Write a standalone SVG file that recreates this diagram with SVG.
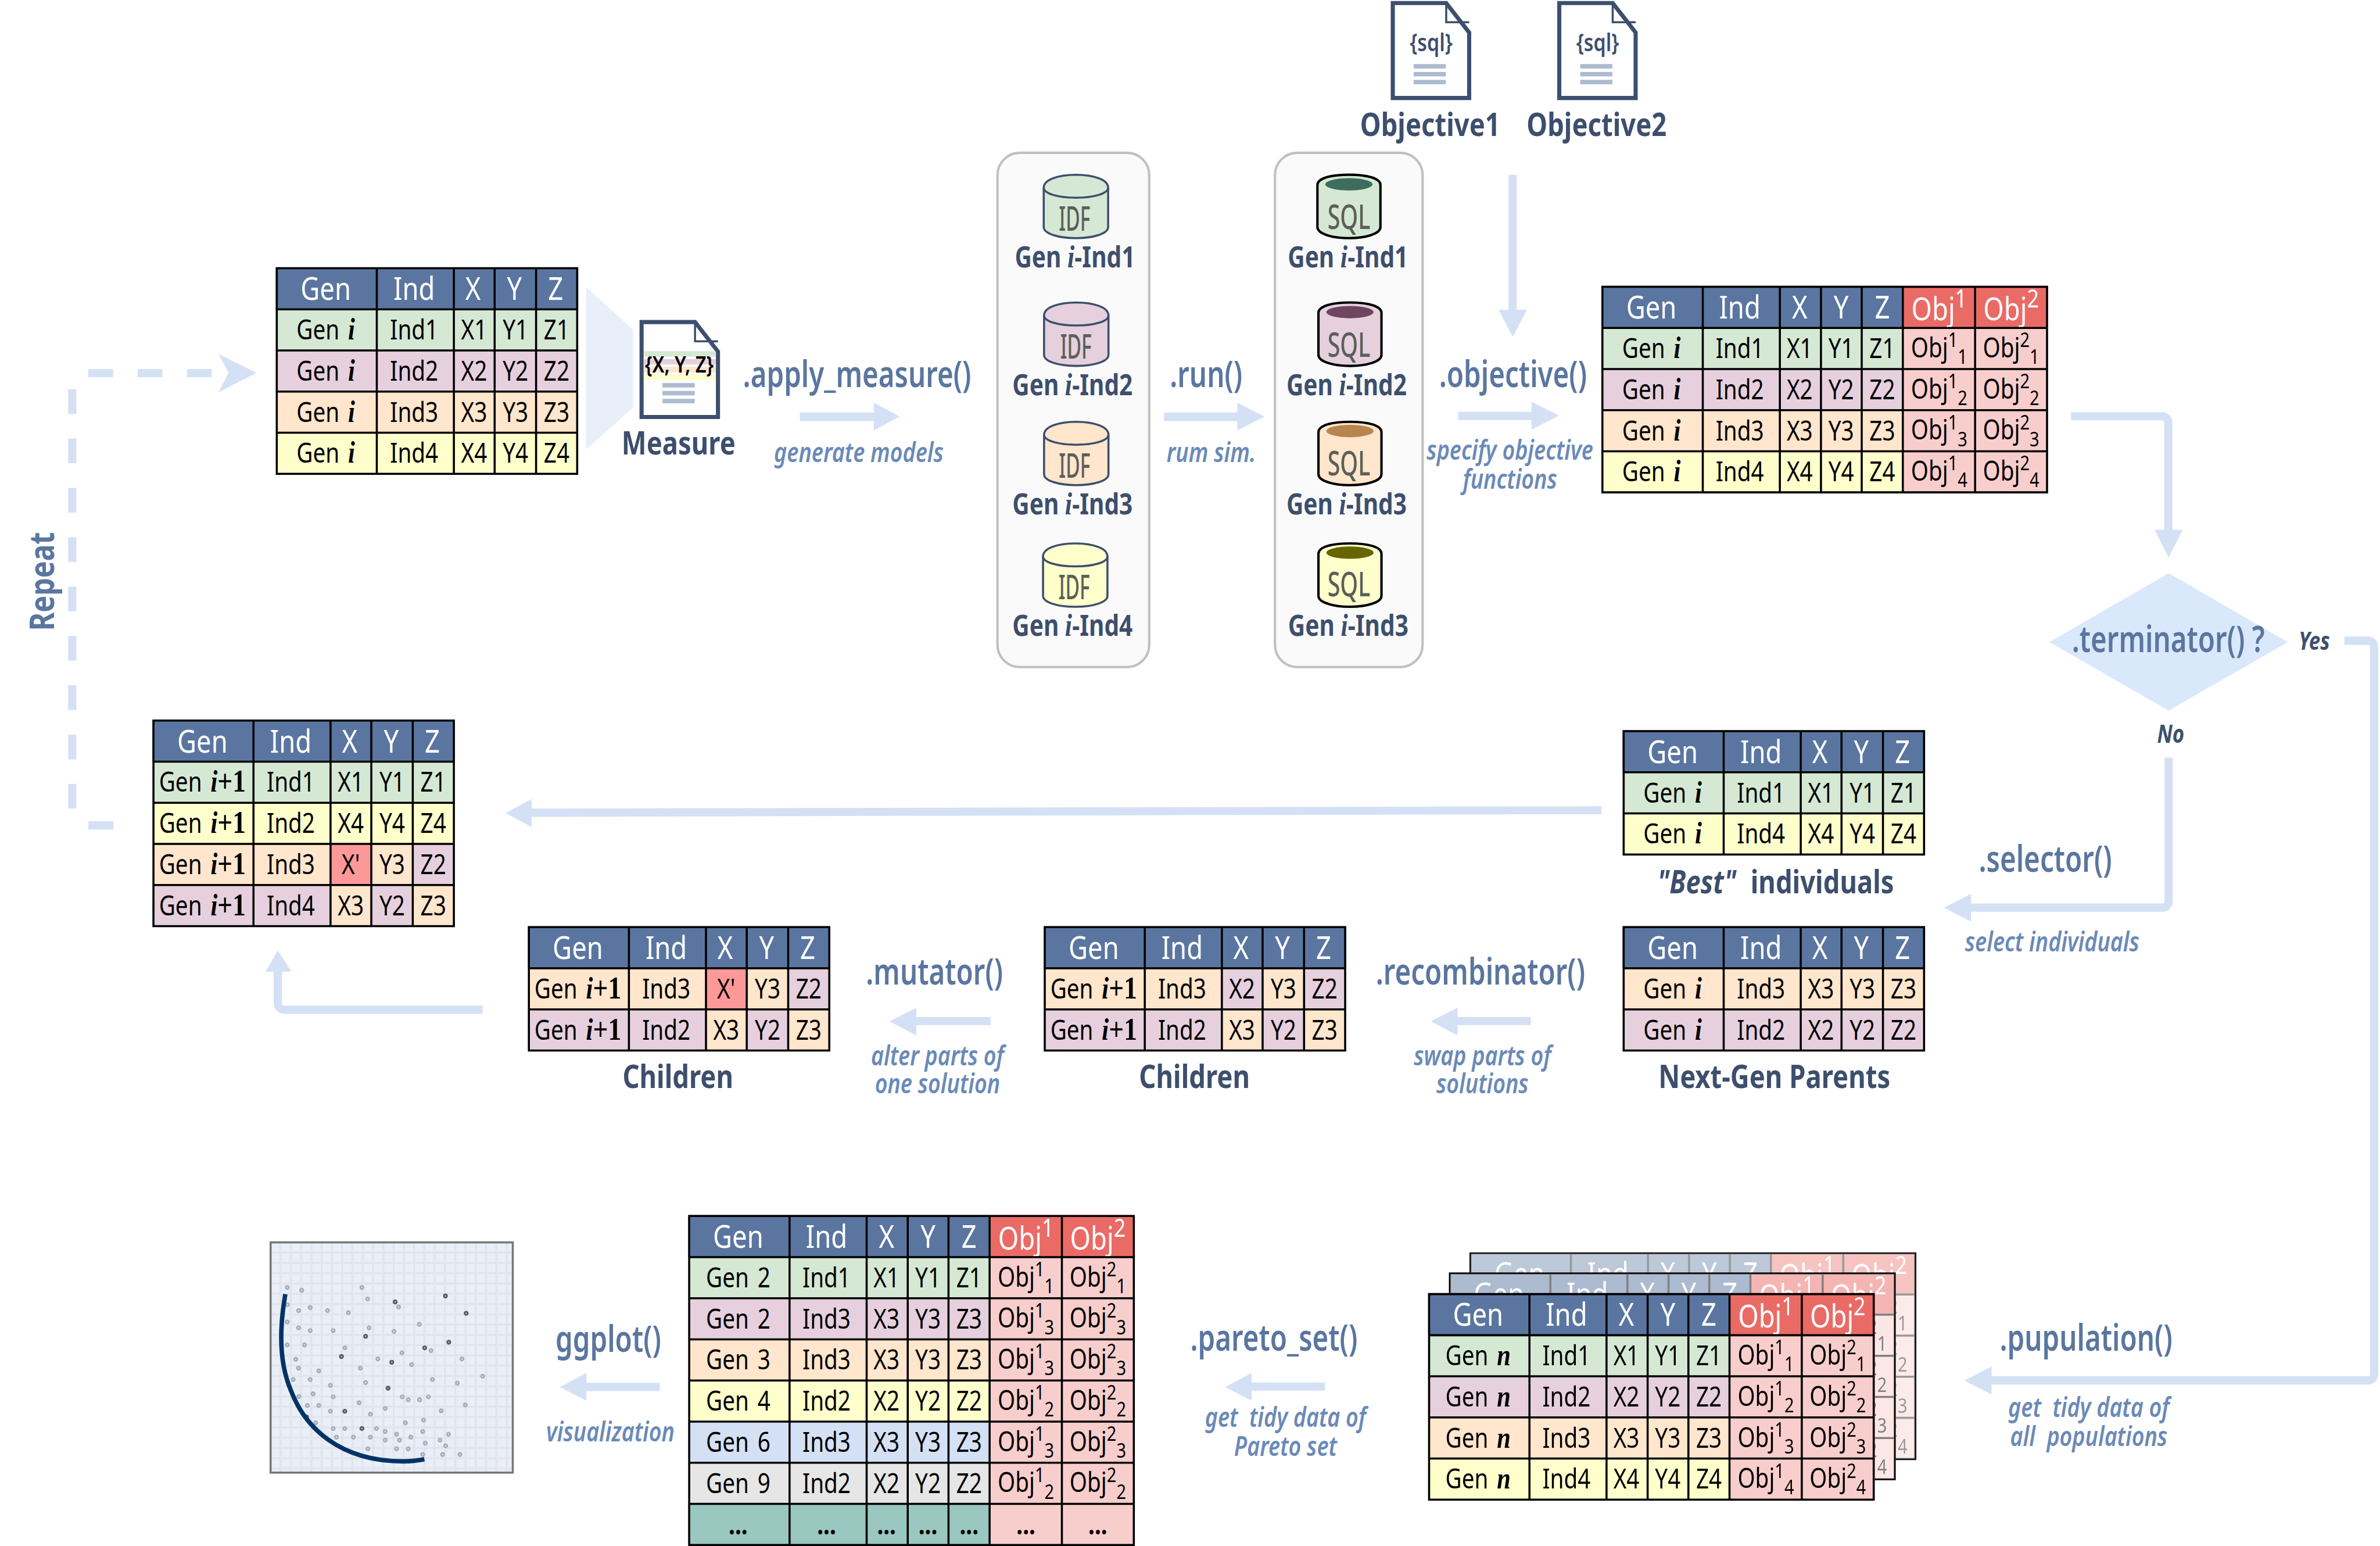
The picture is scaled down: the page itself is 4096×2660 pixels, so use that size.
<svg xmlns="http://www.w3.org/2000/svg" xmlns:xlink="http://www.w3.org/1999/xlink" width="4096" height="2660" viewBox="0 0 4096 2660">
<style>
text{font-family:"Noto Sans","Open Sans",sans-serif;text-anchor:middle;transform-box:fill-box;transform-origin:center;transform:scaleX(.82)}
.i{font-family:"Liberation Serif",serif;font-style:italic;font-weight:bold;font-size:1.1em}
.s{font-family:"Liberation Serif",serif;font-weight:bold;font-size:1.18em}
.t text{font-size:80px;fill:#000;word-spacing:10px}
.hd text{font-size:94px;fill:#fff}
.sup{font-size:60px}.hs{font-size:74px}
.A{fill:#d5e8d4}.B{fill:#e6d0de}.C{fill:#ffe6cc}.D{fill:#ffffcc}.E{fill:#d4e1f5}.F{fill:#e6e6e6}.G{fill:#9ac7bf}.O{fill:#f8cecc}.H{fill:#5a76a0}.R{fill:#ea6b66}.M{fill:#ff9999}
.grid{fill:none;stroke:#000;stroke-width:6}
.c{fill:none;stroke:#d4e1f5;stroke-width:24}
.f{fill:#d4e1f5}
.nm{font-size:94px;font-weight:700;fill:#3d4f6d}
text.lb{font-size:106px;font-weight:600;fill:#5a76a0;transform:scaleX(.76)}
.sb{font-size:78px;font-weight:600;font-style:italic;fill:#6a8ab8}
.yn{font-size:72px;font-weight:700;font-style:italic;fill:#3d4f6d}
.gl{font-size:84px;font-weight:700;fill:#3d4f6d}
.panel{fill:#fafafa;stroke:#c0c0c0;stroke-width:7}
.idf{stroke:#3d4f6d;stroke-width:6}
.sql{stroke:#000;stroke-width:7}
text.ci{font-size:98px;font-weight:500;fill:#5c5f58;transform:scaleX(.58)}
text.cs{font-size:100px;font-weight:500;fill:#5c5f58;transform:scaleX(.67)}
.ink{fill:#fff;stroke:#3d4f6d;stroke-width:12}
.fold{fill:none;stroke:#3d4f6d;stroke-width:6}
.ln{fill:#adbbd0}
</style>
<defs>
<pattern id="pg" width="30" height="30" patternUnits="userSpaceOnUse" x="816" y="3653"><rect width="30" height="30" fill="#e8eff9"/><path d="M3 0V30M0 3H30" stroke="#e3e4ea" stroke-width="6"/></pattern>
<path id="g5" class="grid" d="M3 3H880V603H3ZM295 0V606M520 0V606M639 0V606M760 0V606M0 123H883M0 243H883M0 363H883M0 483H883"/>
<path id="g3" class="grid" d="M3 3H880V363H3ZM295 0V366M520 0V366M639 0V366M760 0V366M0 123H883M0 243H883"/>
<path id="g7" class="grid" d="M3 3H1301V603H3ZM296 0V606M521 0V606M641 0V606M760 0V606M880 0V606M1091 0V606M0 123H1304M0 243H1304M0 363H1304M0 483H1304"/>
<path id="g8" class="grid" d="M3 3H1301V963H3ZM296 0V966M521 0V966M641 0V966M760 0V966M880 0V966M1091 0V966M0 123H1304M0 243H1304M0 363H1304M0 483H1304M0 603H1304M0 723H1304M0 843H1304"/>
<g id="h5" class="hd"><rect class="H" width="883" height="123"/><text x="146" y="96">Gen</text><text x="404" y="96">Ind</text><text x="576" y="96">X</text><text x="697" y="96">Y</text><text x="817" y="96">Z</text></g>
<g id="h7" class="hd"><rect class="H" width="880" height="123"/><rect class="R" x="880" width="424" height="123"/><text x="146" y="96">Gen</text><text x="404" y="96">Ind</text><text x="579" y="96">X</text><text x="700" y="96">Y</text><text x="820" y="96">Z</text><text x="986" y="101">Obj<tspan class="hs" dy="-37">1</tspan></text><text x="1196" y="101">Obj<tspan class="hs" dy="-37">2</tspan></text></g>
<g id="oc" class="t"><rect class="O" x="880" y="123" width="424" height="480"/>
<text x="986" y="209">Obj<tspan class="sup" dy="-30">1</tspan><tspan class="sup" dy="49">1</tspan></text><text x="1196" y="209">Obj<tspan class="sup" dy="-30">2</tspan><tspan class="sup" dy="49">1</tspan></text>
<text x="986" y="329">Obj<tspan class="sup" dy="-30">1</tspan><tspan class="sup" dy="49">2</tspan></text><text x="1196" y="329">Obj<tspan class="sup" dy="-30">2</tspan><tspan class="sup" dy="49">2</tspan></text>
<text x="986" y="449">Obj<tspan class="sup" dy="-30">1</tspan><tspan class="sup" dy="49">3</tspan></text><text x="1196" y="449">Obj<tspan class="sup" dy="-30">2</tspan><tspan class="sup" dy="49">3</tspan></text>
<text x="986" y="569">Obj<tspan class="sup" dy="-30">1</tspan><tspan class="sup" dy="49">4</tspan></text><text x="1196" y="569">Obj<tspan class="sup" dy="-30">2</tspan><tspan class="sup" dy="49">4</tspan></text></g>
<g id="ri" class="t"><rect class="A" y="123" width="880" height="120"/><rect class="B" y="243" width="880" height="120"/><rect class="C" y="363" width="880" height="120"/><rect class="D" y="483" width="880" height="120"/>
<text x="404" y="211">Ind1</text><text x="579" y="211">X1</text><text x="700" y="211">Y1</text><text x="820" y="211">Z1</text>
<text x="404" y="331">Ind2</text><text x="579" y="331">X2</text><text x="700" y="331">Y2</text><text x="820" y="331">Z2</text>
<text x="404" y="451">Ind3</text><text x="579" y="451">X3</text><text x="700" y="451">Y3</text><text x="820" y="451">Z3</text>
<text x="404" y="571">Ind4</text><text x="579" y="571">X4</text><text x="700" y="571">Y4</text><text x="820" y="571">Z4</text></g>
<g id="gi4" class="t"><text x="146" y="211">Gen <tspan class="i">i</tspan></text><text x="146" y="331">Gen <tspan class="i">i</tspan></text><text x="146" y="451">Gen <tspan class="i">i</tspan></text><text x="146" y="571">Gen <tspan class="i">i</tspan></text></g>
<g id="doc"><path class="ink" d="M6 6H162L229 92V283H6Z"/><path class="fold" d="M162 6V62H229"/><rect class="ln" x="67" y="184" width="94" height="13"/><rect class="ln" x="67" y="207" width="94" height="13"/><rect class="ln" x="67" y="230" width="94" height="13"/></g>
<path id="cyl" d="M0 38C0 14 42 0 94 0S188 14 188 38V153C188 172 145 185 94 185S0 172 0 153Z"/>
<path id="lip" fill="none" d="M0 38C0 55 42 67 94 67S188 55 188 38"/>
<path id="cy2" d="M0 30C0 10 40 0 92 0S184 10 184 30V153C184 172 142 185 92 185S0 172 0 153Z"/>
<path id="pts-g" vector-effect="non-scaling-stroke" d="M167 449h0M218 463h0M430 449h0M450 507h0M559 548h0M168 536h0M207 566h0M248 551h0M309 566h0M382 577h0M167 624h0M207 654h0M248 668h0M329 668h0M455 654h0M543 672h0M632 636h0M167 741h0M228 741h0M370 756h0M571 781h0M673 770h0M197 814h0M486 812h0M605 841h0M782 812h0M207 859h0M278 873h0M424 859h0M855 900h0M188 917h0M248 917h0M319 946h0M443 932h0M678 917h0M766 935h0M258 990h0M329 1005h0M208 1003h0M572 1005h0M593 1020h0M633 1020h0M664 1005h0M238 1049h0M278 1049h0M420 1035h0M512 1064h0M794 1046h0M319 1078h0M460 1093h0M709 1076h0M647 1123h0M583 1137h0M267 1137h0M329 1166h0M370 1166h0M481 1166h0M512 1181h0M552 1195h0M644 1181h0M735 1195h0M340 1210h0M400 1210h0M460 1210h0M512 1225h0M562 1225h0M602 1210h0M705 1225h0M653 1240h0M725 1254h0M451 1269h0M552 1269h0M593 1269h0M644 1298h0M714 1298h0M775 1298h0"/>
<path id="pts-d" vector-effect="non-scaling-stroke" d="M547 522h0M724 492h0M797 580h0M443 697h0M736 727h0M651 756h0M358 800h0M535 829h0M522 961h0M370 1078h0M235 1107h0M430 1166h0"/>
</defs>
<g transform="scale(.58952)">
<rect width="6948" height="4512" fill="#fff"/>
<g id="connectors">
<polygon points="1711,838 1848,962 1848,1190 1711,1312" fill="#e8eff9"/>
<path class="c" stroke-dasharray="72 72" d="M258 1089H620"/><path class="c" d="M331 2409H258"/><path class="c" stroke-dasharray="72 72" d="M211 2360V1136"/>
<polygon class="f" points="638,1033 749,1088 638,1145 667,1088"/>
<polygon class="f" points="2335,1204 2551,1204 2551,1175 2627,1216 2551,1256 2551,1229 2335,1229"/>
<polygon class="f" points="3398,1204 3612,1204 3612,1175 3692,1216 3612,1256 3612,1229 3398,1229"/>
<polygon class="f" points="4257,1202 4471,1202 4471,1172 4551,1213 4471,1254 4471,1226 4257,1226"/>
<polygon class="f" points="4404,510 4428,510 4428,904 4458,904 4416,983 4375,904 4404,904"/>
<path class="c" d="M6046 1215H6310Q6330 1215 6330 1235V1550"/><polygon class="f" points="6290,1546 6372,1546 6331,1627"/>
<path class="c" d="M6844 1870H6911Q6931 1870 6931 1890V4009Q6931 4029 6911 4029H5800"/><polygon class="f" points="5814,3988 5735,4029 5814,4070"/>
<path class="c" d="M6331 2211V2629Q6331 2649 6311 2649H5740"/><polygon class="f" points="5754,2609 5675,2649 5754,2690"/>
<polygon class="f" points="4675,2353 4675,2376 1552,2384 1552,2414 1476,2373 1552,2332 1552,2360"/>
<polygon class="f" points="2892,2968 2675,2968 2675,2941 2597,2981 2675,3022 2675,2992 2892,2992"/>
<polygon class="f" points="4469,2968 4255,2968 4255,2941 4177,2981 4255,3022 4255,2992 4469,2992"/>
<path class="c" d="M1409 2947H831Q811 2947 811 2927V2830"/><polygon class="f" points="775,2836 811,2774 851,2836"/>
<polygon class="f" points="3868,4035 3654,4035 3654,4007 3576,4048 3654,4088 3654,4059 3868,4059"/>
<polygon class="f" points="1926,4036 1712,4036 1712,4007 1634,4048 1712,4088 1712,4060 1926,4060"/>
</g>
<g id="table-gen-i" transform="translate(805,780)"><use href="#h5"/><use href="#ri"/><use href="#gi4"/><use href="#g5"/></g>
<g id="measure"><use href="#doc" x="1867" y="934"/>
<rect class="A" x="1880" y="1025" width="209" height="16"/><rect class="B" x="1880" y="1048" width="209" height="16"/><rect class="C" x="1880" y="1070" width="209" height="17"/><rect class="D" x="1880" y="1093" width="209" height="16"/>
<text x="1983" y="1088" font-size="68" font-weight="600" fill="#000">{X, Y, Z}</text><text class="nm" x="1981" y="1327">Measure</text></g>
<g id="objective1"><use href="#doc" x="4060" y="3"/><text x="4178" y="150" font-size="70" font-weight="600" fill="#3d4f6d">{sql}</text><text class="nm" x="4175" y="397">Objective1</text></g>
<g id="objective2"><use href="#doc" x="4546" y="3"/><text x="4664" y="150" font-size="70" font-weight="600" fill="#3d4f6d">{sql}</text><text class="nm" x="4661" y="397">Objective2</text></g>
<g id="idf-panel"><rect class="panel" x="2912" y="446" width="443" height="1501" rx="65" ry="65"/>
<g class="idf"><use href="#cyl" x="3047" y="510" class="A"/><use href="#lip" x="3047" y="510"/><use href="#cyl" x="3048" y="883" class="B"/><use href="#lip" x="3048" y="883"/><use href="#cyl" x="3048" y="1231" class="C"/><use href="#lip" x="3048" y="1231"/><use href="#cyl" x="3045" y="1586" class="D"/><use href="#lip" x="3045" y="1586"/></g>
<text class="ci" x="3137" y="673">IDF</text><text class="ci" x="3141" y="1046">IDF</text><text class="ci" x="3137" y="1394">IDF</text><text class="ci" x="3136" y="1749">IDF</text>
<text class="gl" x="3138" y="781">Gen <tspan class="i">i</tspan>-Ind1</text><text class="gl" x="3131" y="1153">Gen <tspan class="i">i</tspan>-Ind2</text><text class="gl" x="3131" y="1501">Gen <tspan class="i">i</tspan>-Ind3</text><text class="gl" x="3131" y="1856">Gen <tspan class="i">i</tspan>-Ind4</text></g>
<g id="sql-panel"><rect class="panel" x="3722" y="446" width="431" height="1501" rx="65" ry="65"/>
<g class="sql"><use href="#cy2" x="3846" y="510" class="A"/><use href="#cy2" x="3849" y="883" class="B"/><use href="#cy2" x="3849" y="1231" class="C"/><use href="#cy2" x="3849" y="1586" class="D"/></g>
<ellipse cx="3938" cy="538" rx="69" ry="18" fill="#3e6d5f"/><ellipse cx="3941" cy="911" rx="69" ry="18" fill="#6e4660"/><ellipse cx="3941" cy="1258" rx="69" ry="18" fill="#b8844f"/><ellipse cx="3941" cy="1613" rx="69" ry="18" fill="#666600"/>
<text class="cs" x="3938" y="668">SQL</text><text class="cs" x="3938" y="1041">SQL</text><text class="cs" x="3938" y="1387">SQL</text><text class="cs" x="3938" y="1741">SQL</text>
<text class="gl" x="3935" y="781">Gen <tspan class="i">i</tspan>-Ind1</text><text class="gl" x="3931" y="1153">Gen <tspan class="i">i</tspan>-Ind2</text><text class="gl" x="3931" y="1501">Gen <tspan class="i">i</tspan>-Ind3</text><text class="gl" x="3936" y="1856">Gen <tspan class="i">i</tspan>-Ind3</text></g>
<g id="table-objectives" transform="translate(4675,834)"><use href="#h7"/><use href="#ri"/><use href="#gi4"/><use href="#oc"/><use href="#g7"/></g>
<g id="terminator"><polygon points="5983,1874 6331,1673 6679,1874 6331,2074" fill="#dae8fc"/><text class="lb" x="6330" y="1904">.terminator() ?</text><text class="yn" x="6756" y="1897">Yes</text><text class="yn" x="6337" y="2168">No</text></g>
<g id="table-best" transform="translate(4737,2131)"><use href="#h5"/><g class="t"><rect class="A" y="123" width="880" height="120"/><rect class="D" y="243" width="880" height="120"/>
<text x="146" y="211">Gen <tspan class="i">i</tspan></text><text x="404" y="211">Ind1</text><text x="579" y="211">X1</text><text x="700" y="211">Y1</text><text x="820" y="211">Z1</text>
<text x="146" y="331">Gen <tspan class="i">i</tspan></text><text x="404" y="331">Ind4</text><text x="579" y="331">X4</text><text x="700" y="331">Y4</text><text x="820" y="331">Z4</text></g><use href="#g3"/>
<text class="nm" x="447" y="476" word-spacing="26"><tspan font-style="italic">"Best"</tspan> individuals</text></g>
<g id="table-parents" transform="translate(4737,2703)"><use href="#h5"/><g class="t"><rect class="C" y="123" width="880" height="120"/><rect class="B" y="243" width="880" height="120"/>
<text x="146" y="211">Gen <tspan class="i">i</tspan></text><text x="404" y="211">Ind3</text><text x="579" y="211">X3</text><text x="700" y="211">Y3</text><text x="820" y="211">Z3</text>
<text x="146" y="331">Gen <tspan class="i">i</tspan></text><text x="404" y="331">Ind2</text><text x="579" y="331">X2</text><text x="700" y="331">Y2</text><text x="820" y="331">Z2</text></g><use href="#g3"/>
<text class="nm" x="443" y="472">Next-Gen Parents</text></g>
<g id="table-children-recombined" transform="translate(3047,2703)"><use href="#h5"/><g class="t"><rect class="C" y="123" width="880" height="120"/><rect class="B" y="243" width="880" height="120"/><rect class="B" x="520" y="123" width="119" height="120"/><rect class="B" x="760" y="123" width="120" height="120"/><rect class="C" x="520" y="243" width="119" height="120"/><rect class="C" x="760" y="243" width="120" height="120"/>
<text x="146" y="211">Gen <tspan class="i">i</tspan><tspan class="s">+1</tspan></text><text x="404" y="211">Ind3</text><text x="579" y="211">X2</text><text x="700" y="211">Y3</text><text x="820" y="211">Z2</text>
<text x="146" y="331">Gen <tspan class="i">i</tspan><tspan class="s">+1</tspan></text><text x="404" y="331">Ind2</text><text x="579" y="331">X3</text><text x="700" y="331">Y2</text><text x="820" y="331">Z3</text></g><use href="#g3"/>
<text class="nm" x="440" y="472">Children</text></g>
<g id="table-children-mutated" transform="translate(1541,2703)"><use href="#h5"/><g class="t"><rect class="C" y="123" width="880" height="120"/><rect class="B" y="243" width="880" height="120"/><rect class="M" x="520" y="123" width="119" height="120"/><rect class="B" x="760" y="123" width="120" height="120"/><rect class="C" x="520" y="243" width="119" height="120"/><rect class="C" x="760" y="243" width="120" height="120"/>
<text x="146" y="211">Gen <tspan class="i">i</tspan><tspan class="s">+1</tspan></text><text x="404" y="211">Ind3</text><text x="579" y="211">X'</text><text x="700" y="211">Y3</text><text x="820" y="211">Z2</text>
<text x="146" y="331">Gen <tspan class="i">i</tspan><tspan class="s">+1</tspan></text><text x="404" y="331">Ind2</text><text x="579" y="331">X3</text><text x="700" y="331">Y2</text><text x="820" y="331">Z3</text></g><use href="#g3"/>
<text class="nm" x="438" y="472">Children</text></g>
<g id="table-next-gen" transform="translate(445,2100)"><use href="#h5"/><g class="t"><rect class="A" y="123" width="880" height="120"/><rect class="D" y="243" width="880" height="120"/><rect class="C" y="363" width="880" height="120"/><rect class="B" y="483" width="880" height="120"/><rect class="M" x="520" y="363" width="119" height="120"/><rect class="B" x="760" y="363" width="120" height="120"/><rect class="C" x="520" y="483" width="119" height="120"/><rect class="C" x="760" y="483" width="120" height="120"/>
<text x="146" y="211">Gen <tspan class="i">i</tspan><tspan class="s">+1</tspan></text><text x="404" y="211">Ind1</text><text x="579" y="211">X1</text><text x="700" y="211">Y1</text><text x="820" y="211">Z1</text>
<text x="146" y="331">Gen <tspan class="i">i</tspan><tspan class="s">+1</tspan></text><text x="404" y="331">Ind2</text><text x="579" y="331">X4</text><text x="700" y="331">Y4</text><text x="820" y="331">Z4</text>
<text x="146" y="451">Gen <tspan class="i">i</tspan><tspan class="s">+1</tspan></text><text x="404" y="451">Ind3</text><text x="579" y="451">X'</text><text x="700" y="451">Y3</text><text x="820" y="451">Z2</text>
<text x="146" y="571">Gen <tspan class="i">i</tspan><tspan class="s">+1</tspan></text><text x="404" y="571">Ind4</text><text x="579" y="571">X3</text><text x="700" y="571">Y2</text><text x="820" y="571">Z3</text></g><use href="#g5"/></g>
<g id="labels">
<text class="lb" x="2502" y="1130">.apply_measure()</text><text class="sb" x="2507" y="1349">generate models</text>
<text class="lb" x="3521" y="1130">.run()</text><text class="sb" x="3536" y="1349">rum sim.</text>
<text class="lb" x="4417" y="1130">.objective()</text><text class="sb"><tspan x="4408" y="1342">specify objective</tspan><tspan x="4408" y="1426">functions</tspan></text>
<text class="lb" x="5971" y="2545">.selector()</text><text class="sb" x="5991" y="2777">select individuals</text>
<text class="lb" x="2728" y="2874">.mutator()</text><text class="sb"><tspan x="2736" y="3109">alter parts of</tspan><tspan x="2736" y="3191">one solution</tspan></text>
<text class="lb" x="4322" y="2874">.recombinator()</text><text class="sb"><tspan x="4327" y="3109">swap parts of</tspan><tspan x="4327" y="3191">solutions</tspan></text>
<text class="lb" x="6090" y="3943">.pupulation()</text><text class="sb" xml:space="preserve"><tspan x="6097" y="4135">get  tidy data of</tspan><tspan x="6097" y="4220">all  populations</tspan></text>
<text class="lb" x="3719" y="3943">.pareto_set()</text><text class="sb" xml:space="preserve"><tspan x="3752" y="4165">get  tidy data of</tspan><tspan x="3752" y="4249">Pareto set</tspan></text>
<text class="lb" x="1776" y="3945">ggplot()</text><text class="sb" x="1782" y="4207">visualization</text>
<g transform="translate(158,1697) rotate(-90)"><text class="nm" style="fill:#5a76a0;font-size:100px">Repeat</text></g>
</g>
<g id="table-population">
<g id="pop-back" transform="translate(4290,3655)"><rect width="1304" height="606" fill="#fff"/><use href="#pop-front" opacity=".4"/><rect x="2" y="2" width="1300" height="602" fill="none" stroke="#000" stroke-width="4"/></g>
<g id="pop-mid" transform="translate(4230,3714)"><rect width="1304" height="606" fill="#fff"/><use href="#pop-front" opacity=".5"/><rect x="2" y="2" width="1300" height="602" fill="none" stroke="#000" stroke-width="4"/></g>
<g transform="translate(4169,3774)"><g id="pop-front"><use href="#h7"/><use href="#ri"/><g class="t"><text x="146" y="211">Gen <tspan class="i">n</tspan></text><text x="146" y="331">Gen <tspan class="i">n</tspan></text><text x="146" y="451">Gen <tspan class="i">n</tspan></text><text x="146" y="571">Gen <tspan class="i">n</tspan></text></g><use href="#oc"/><use href="#g7"/></g></g>
</g>
<g id="table-pareto" transform="translate(2009,3546)"><use href="#h7"/><g class="t"><rect class="A" y="123" width="880" height="120"/><rect class="B" y="243" width="880" height="120"/><rect class="C" y="363" width="880" height="120"/><rect class="D" y="483" width="880" height="120"/><rect class="E" y="603" width="880" height="120"/><rect class="F" y="723" width="880" height="120"/><rect class="G" y="843" width="880" height="120"/><rect class="O" x="880" y="123" width="424" height="840"/>
<text x="146" y="211">Gen 2</text><text x="404" y="211">Ind1</text><text x="579" y="211">X1</text><text x="700" y="211">Y1</text><text x="820" y="211">Z1</text><text x="986" y="209">Obj<tspan class="sup" dy="-30">1</tspan><tspan class="sup" dy="49">1</tspan></text><text x="1196" y="209">Obj<tspan class="sup" dy="-30">2</tspan><tspan class="sup" dy="49">1</tspan></text>
<text x="146" y="331">Gen 2</text><text x="404" y="331">Ind3</text><text x="579" y="331">X3</text><text x="700" y="331">Y3</text><text x="820" y="331">Z3</text><text x="986" y="329">Obj<tspan class="sup" dy="-30">1</tspan><tspan class="sup" dy="49">3</tspan></text><text x="1196" y="329">Obj<tspan class="sup" dy="-30">2</tspan><tspan class="sup" dy="49">3</tspan></text>
<text x="146" y="451">Gen 3</text><text x="404" y="451">Ind3</text><text x="579" y="451">X3</text><text x="700" y="451">Y3</text><text x="820" y="451">Z3</text><text x="986" y="449">Obj<tspan class="sup" dy="-30">1</tspan><tspan class="sup" dy="49">3</tspan></text><text x="1196" y="449">Obj<tspan class="sup" dy="-30">2</tspan><tspan class="sup" dy="49">3</tspan></text>
<text x="146" y="571">Gen 4</text><text x="404" y="571">Ind2</text><text x="579" y="571">X2</text><text x="700" y="571">Y2</text><text x="820" y="571">Z2</text><text x="986" y="569">Obj<tspan class="sup" dy="-30">1</tspan><tspan class="sup" dy="49">2</tspan></text><text x="1196" y="569">Obj<tspan class="sup" dy="-30">2</tspan><tspan class="sup" dy="49">2</tspan></text>
<text x="146" y="691">Gen 6</text><text x="404" y="691">Ind3</text><text x="579" y="691">X3</text><text x="700" y="691">Y3</text><text x="820" y="691">Z3</text><text x="986" y="689">Obj<tspan class="sup" dy="-30">1</tspan><tspan class="sup" dy="49">3</tspan></text><text x="1196" y="689">Obj<tspan class="sup" dy="-30">2</tspan><tspan class="sup" dy="49">3</tspan></text>
<text x="146" y="811">Gen 9</text><text x="404" y="811">Ind2</text><text x="579" y="811">X2</text><text x="700" y="811">Y2</text><text x="820" y="811">Z2</text><text x="986" y="809">Obj<tspan class="sup" dy="-30">1</tspan><tspan class="sup" dy="49">2</tspan></text><text x="1196" y="809">Obj<tspan class="sup" dy="-30">2</tspan><tspan class="sup" dy="49">2</tspan></text>
<g font-weight="700"><text x="146" y="932">...</text><text x="404" y="932">...</text><text x="579" y="932">...</text><text x="700" y="932">...</text><text x="820" y="932">...</text><text x="986" y="932">...</text><text x="1196" y="932">...</text></g></g><use href="#g8"/></g>
<g id="pareto-plot"><rect x="790" y="3626" width="707" height="672" fill="url(#pg)" stroke="#777" stroke-width="6"/>
<g transform="translate(700,3500) scale(.8292,.574)" fill="none" stroke-linecap="round"><use href="#pts-g" stroke="#a7b1ba" stroke-width="8.4"/><use href="#pts-d" stroke="#58605c" stroke-width="8.4"/><use href="#pts-g" stroke="#e8eff0" stroke-width="2.2"/><use href="#pts-d" stroke="#d5e8d4" stroke-width="2.2"/></g>
<path d="M833 3777C815 3880 815 3980 850 4060C890 4165 990 4265 1177 4265Q1210 4265 1239 4259" fill="none" stroke="#003366" stroke-width="13"/></g>
</g>
</svg>
